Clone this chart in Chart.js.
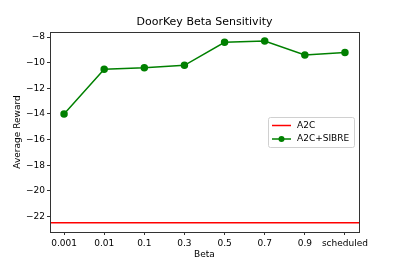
<!DOCTYPE html>
<html><head><meta charset="utf-8">
<script src="https://cdn.jsdelivr.net/npm/chart.js@4"></script>
<style>html,body{margin:0;padding:0;background:#fff}#wrap{width:399px;height:266px}</style>
</head><body><div id="wrap"><canvas id="c" width="399" height="266"></canvas></div>
<script>
const categories = ["0.001","0.01","0.1","0.3","0.5","0.7","0.9","scheduled"];
const sibreValues = [-14.0,-10.5,-10.4,-10.2,-8.4,-8.3,-9.4,-9.2];
const a2cValue = -22.5;
const yTicks = [-22,-20,-18,-16,-14,-12,-10,-8];
const titleText = "DoorKey Beta Sensitivity";
const xTitle = "Beta";
const yTitle = "Average Reward";
const seriesNames = ["A2C","A2C+SIBRE"];

const xMin = -0.35, xMax = categories.length - 1 + 0.35;
const FONT = "'DejaVu Sans', sans-serif";

const decor = {
  id: 'decor',
  afterDraw(chart) {
    const ctx = chart.ctx, a = chart.chartArea;
    ctx.save();
    ctx.strokeStyle = '#333'; ctx.lineWidth = 1;
    ctx.strokeRect(Math.round(a.left)+0.5, Math.round(a.top)+0.5, Math.round(a.right-a.left), Math.round(a.bottom-a.top));
    ctx.fillStyle = '#000';
    ctx.font = "11px " + FONT;
    ctx.textAlign = 'center'; ctx.textBaseline = 'alphabetic';
    ctx.fillText(titleText, (a.left+a.right)/2, a.top - 7);
    // legend
    const lx = 268, ly = 117, lw = 86, lh = 30;
    ctx.fillStyle = 'rgba(255,255,255,0.8)';
    ctx.strokeStyle = '#d0d0d0';
    ctx.beginPath();
    if (ctx.roundRect) ctx.roundRect(lx+0.5, ly+0.5, lw, lh, 2); else ctx.rect(lx+0.5, ly+0.5, lw, lh);
    ctx.fill(); ctx.stroke();
    ctx.font = "9px " + FONT;
    ctx.textAlign = 'left'; ctx.textBaseline = 'middle';
    const ds = chart.data.datasets;
    [[ds[0], ly+8.5],[ds[1], ly+22]].forEach(([d, y]) => {
      ctx.strokeStyle = d.borderColor; ctx.lineWidth = 1.5;
      ctx.beginPath(); ctx.moveTo(lx+4, y); ctx.lineTo(lx+23, y); ctx.stroke();
      if (d.pointRadius > 0) {
        ctx.fillStyle = d.pointBackgroundColor;
        ctx.beginPath(); ctx.arc(lx+13.5, y, 3, 0, Math.PI*2); ctx.fill();
      }
      ctx.fillStyle = '#000';
      ctx.fillText(d.label, lx+29, y);
    });
    ctx.restore();
  }
};

new Chart(document.getElementById('c'), {
  type: 'line',
  data: {
    datasets: [
      { label: seriesNames[0], data: [{x:xMin,y:a2cValue},{x:xMax,y:a2cValue}],
        borderColor: 'red', backgroundColor: 'red', borderWidth: 1.5, pointRadius: 0, pointBackgroundColor:'red' },
      { label: seriesNames[1], data: sibreValues.map((v,i)=>({x:i,y:v})),
        borderColor: 'green', backgroundColor: 'green', pointBackgroundColor: 'green', pointBorderColor: 'green',
        borderWidth: 1.5, pointRadius: 3, tension: 0 }
    ]
  },
  options: {
    responsive: false, animation: false,
    layout: { padding: { top: 32, right: 40, left: 12, bottom: 6 } },
    plugins: { legend: { display: false }, title: { display: false }, tooltip: { enabled: false } },
    scales: {
      x: {
        type: 'linear', min: xMin, max: xMax,
        afterBuildTicks(s) { s.ticks = categories.map((c,i)=>({value:i})); },
        afterFit(s) { s.height = 28; },
        ticks: { callback: (v)=>categories[v] ?? '', color: '#000', font: { size: 9, family: FONT }, padding: 3, maxRotation: 0, autoSkip: false },
        grid: { drawOnChartArea: false, drawTicks: true, tickLength: 3, color: '#333' },
        border: { color: '#333' },
        title: { display: true, text: xTitle, color: '#000', font: { size: 9, family: FONT }, padding: { top: 0, bottom: 0 } }
      },
      y: {
        min: -23.22, max: -7.6,
        afterBuildTicks(s) { s.ticks = yTicks.map(v=>({value:v})); },
        afterFit(s) { s.width = 38; },
        ticks: { callback: (v)=> (v<0 ? '\u2212' + Math.abs(v) : String(v)), color: '#000', font: { size: 9, family: FONT }, padding: 2 },
        grid: { drawOnChartArea: false, drawTicks: true, tickLength: 3, color: '#333' },
        border: { color: '#333' },
        title: { display: true, text: yTitle, color: '#000', font: { size: 9, family: FONT }, padding: { top: 0, bottom: 0 } }
      }
    }
  },
  plugins: [decor]
});
</script></body></html>
